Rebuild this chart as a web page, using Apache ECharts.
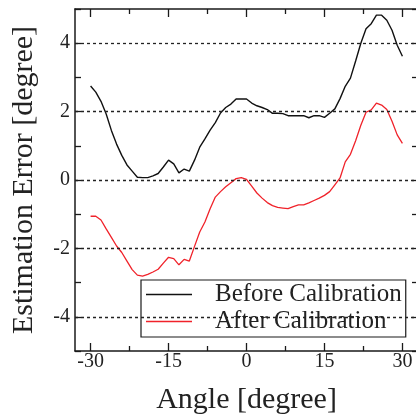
<!DOCTYPE html>
<html>
<head>
<meta charset="utf-8">
<script src="https://cdn.jsdelivr.net/npm/echarts@6/dist/echarts.min.js"></script>
<style>
  html, body { margin: 0; padding: 0; background: #fff; }
  #chart { width: 416px; height: 416px; }
</style>
</head>
<body>
<div id="chart"></div>
<script>
// Sampled angles in degrees
const angles = [
  -30, -29, -28, -27, -26, -25, -24, -23, -22, -21,
  -20, -19, -18, -17, -16, -15, -14, -13, -12, -11,
  -10, -9, -8, -7, -6, -5, -4, -3, -2, -1,
  0, 1, 2, 3, 4, 5, 6, 7, 8, 9,
  10, 11, 12, 13, 14, 15, 16, 17, 18, 19,
  20, 21, 22, 23, 24, 25, 26, 27, 28, 29, 30
];

// Estimation error before calibration [degree]
const beforeCalibration = [
  2.75, 2.57, 2.30, 1.93, 1.45, 1.05, 0.72, 0.44, 0.26, 0.08,
  0.07, 0.07, 0.12, 0.19, 0.38, 0.58, 0.47, 0.21, 0.32, 0.26,
  0.58, 0.96, 1.20, 1.46, 1.68, 1.96, 2.12, 2.22, 2.37, 2.37,
  2.37, 2.25, 2.17, 2.12, 2.06, 1.95, 1.95, 1.94, 1.88, 1.88,
  1.88, 1.88, 1.82, 1.88, 1.88, 1.83, 1.95, 2.08, 2.38, 2.74,
  2.98, 3.48, 4.00, 4.42, 4.57, 4.82, 4.82, 4.67, 4.38, 3.94, 3.62
];

// Estimation error after calibration [degree]
const afterCalibration = [
  -1.06, -1.06, -1.17, -1.43, -1.68, -1.93, -2.12, -2.37, -2.62, -2.78,
  -2.81, -2.76, -2.69, -2.61, -2.43, -2.26, -2.30, -2.48, -2.32, -2.37,
  -1.94, -1.52, -1.23, -0.84, -0.50, -0.34, -0.20, -0.08, 0.04, 0.07,
  0.02, -0.18, -0.38, -0.53, -0.66, -0.75, -0.80, -0.82, -0.84, -0.78,
  -0.73, -0.73, -0.67, -0.60, -0.53, -0.45, -0.34, -0.14, 0.06, 0.53,
  0.75, 1.15, 1.60, 1.98, 2.05, 2.25, 2.19, 2.06, 1.72, 1.32, 1.07
];

// Axis ticks
const xMajorTicks = [-30, -15, 0, 15, 30];
const xMinorTicks = [-22.5, -7.5, 7.5, 22.5];
const yGridValues = [-4, -2, 0, 2, 4];

const seriesNames = ['Before Calibration', 'After Calibration'];

const serif = 'Liberation Serif, Times New Roman, serif';
const ink = '#1a1a1a';

function pairs(xs, ys) {
  return xs.map((x, i) => [x, ys[i]]);
}

function xAxisDef(position, ticks, len, showLine, showLabel) {
  return {
    type: 'value',
    position: position,
    min: -33,
    max: 33,
    splitLine: { show: false },
    axisLine: { show: showLine, onZero: false, lineStyle: { color: ink, width: 1.5 } },
    axisTick: { show: true, inside: true, length: len, customValues: ticks,
                lineStyle: { color: ink, width: 1.3 } },
    axisLabel: showLabel
      ? { show: true, customValues: ticks, margin: 1, color: '#222',
          fontFamily: serif, fontSize: 20 }
      : { show: false }
  };
}

function yAxisDef(position, showLabel) {
  return {
    type: 'value',
    position: position,
    min: -5,
    max: 5,
    interval: 1,
    splitLine: { show: false },
    axisLine: { show: true, onZero: false, lineStyle: { color: ink, width: 1.5 } },
    axisTick: { show: true, inside: true, length: 6, lineStyle: { color: ink, width: 1.3 } },
    axisLabel: showLabel
      ? { show: true, margin: 5, color: '#222', fontFamily: serif, fontSize: 20,
          formatter: v => (v % 2 === 0 ? String(v) : '') }
      : { show: false }
  };
}

const chart = echarts.init(document.getElementById('chart'), null, { renderer: 'canvas' });

const bottomAxis = xAxisDef('bottom', xMajorTicks, 8, true, true);
bottomAxis.name = 'Angle [degree]';
bottomAxis.nameLocation = 'middle';
bottomAxis.nameGap = 34;
bottomAxis.nameTextStyle = { fontFamily: serif, fontSize: 30, color: '#222' };

const leftAxis = yAxisDef('left', true);
leftAxis.name = 'Estimation Error [degree]';
leftAxis.nameLocation = 'middle';
leftAxis.nameGap = 36;
leftAxis.nameTextStyle = { fontFamily: serif, fontSize: 30, color: '#222' };

chart.setOption({
  animation: false,
  backgroundColor: '#fff',
  grid: { left: 75, top: 9, width: 343, height: 342, containLabel: false,
          outerBoundsMode: 'none' },
  xAxis: [
    bottomAxis,
    xAxisDef('bottom', xMinorTicks, 5, false, false),
    xAxisDef('top', xMajorTicks, 8, true, false),
    xAxisDef('top', xMinorTicks, 5, false, false)
  ],
  yAxis: [leftAxis, yAxisDef('right', false)],
  legend: {
    orient: 'vertical',
    left: 141,
    top: 280,
    padding: [2, 4, 3, 5],
    itemGap: 2,
    itemWidth: 46,
    itemHeight: 1.5,
    icon: 'rect',
    backgroundColor: '#fff',
    borderColor: ink,
    borderWidth: 1.2,
    borderRadius: 0,
    data: seriesNames,
    textStyle: { fontFamily: serif, fontSize: 25, color: '#222', padding: [0, 0, 0, 18] }
  },
  series: [
    {
      name: seriesNames[0],
      type: 'line',
      data: pairs(angles, beforeCalibration),
      symbol: 'none',
      lineStyle: { color: '#111', width: 1.4 },
      itemStyle: { color: '#111' },
      markLine: {
        silent: true,
        symbol: ['none', 'none'],
        label: { show: false },
        lineStyle: { color: '#222', width: 1.3, type: [3, 3] },
        data: yGridValues.map(v => ({ yAxis: v }))
      },
      z: 3
    },
    {
      name: seriesNames[1],
      type: 'line',
      data: pairs(angles, afterCalibration),
      symbol: 'none',
      lineStyle: { color: '#f0222a', width: 1.3 },
      itemStyle: { color: '#f0222a' },
      z: 3
    }
  ]
});
</script>
</body>
</html>
